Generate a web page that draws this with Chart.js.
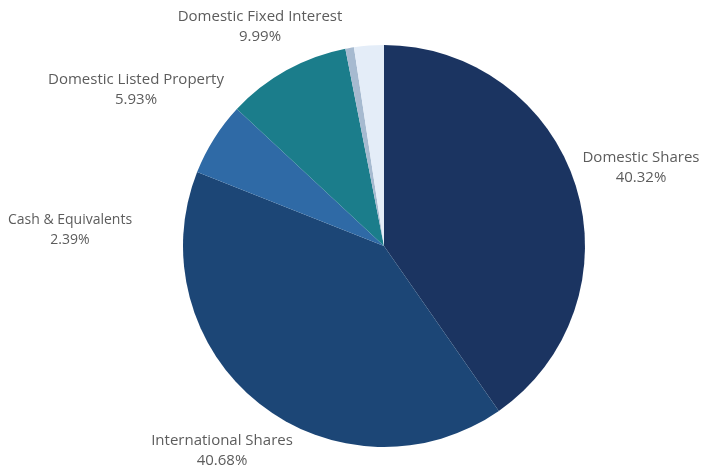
<!DOCTYPE html>
<html>
<head>
<meta charset="utf-8">
<script src="https://cdn.jsdelivr.net/npm/chart.js@4"></script>
<style>
  html, body { margin: 0; padding: 0; background: #fff; }
  #chart { display: block; }
</style>
</head>
<body>
<canvas id="chart" width="702" height="473"></canvas>
<script>
// slices, clockwise from 12 o'clock
const categories = ['Domestic Shares', 'International Shares', 'Domestic Listed Property',
                    'Domestic Fixed Interest', 'Other', 'Cash & Equivalents'];
const values = [40.32, 40.68, 5.93, 9.99, 0.69, 2.39];
const colors = ['#1b3461', '#1c4676', '#2f6aa6', '#1b7d8b', '#a6bad0', '#e4edf8'];

// where each label sits (text centre, font px), null = no label
const labelPos = [[641, 158, 15], [222, 441, 15], [136, 80, 15], [260, 17, 15], null, [70, 220, 14]];

const outsideLabels = {
  id: 'outsideLabels',
  afterDraw(c) {
    const ctx = c.ctx;
    ctx.save();
    ctx.fillStyle = '#5c5c5c';
    ctx.textAlign = 'center';
    ctx.textBaseline = 'middle';
    categories.forEach((name, i) => {
      const p = labelPos[i];
      if (!p) return;
      ctx.font = p[2] + 'px "Open Sans"';
      ctx.fillText(name, p[0], p[1]);
      ctx.fillText(values[i].toFixed(2) + '%', p[0], p[1] + 20);
    });
    ctx.restore();
  }
};

const ctx = document.getElementById('chart').getContext('2d');
const chart = new Chart(ctx, {
  type: 'pie',
  data: {
    labels: categories,
    datasets: [{
      data: values,
      backgroundColor: colors,
      borderWidth: 0
    }]
  },
  options: {
    responsive: false,
    animation: false,
    layout: {
      padding: { top: 45, bottom: 26, left: 183, right: 117 }
    },
    plugins: {
      legend: { display: false },
      tooltip: { enabled: false }
    }
  },
  plugins: [outsideLabels]
});
</script>
</body>
</html>
